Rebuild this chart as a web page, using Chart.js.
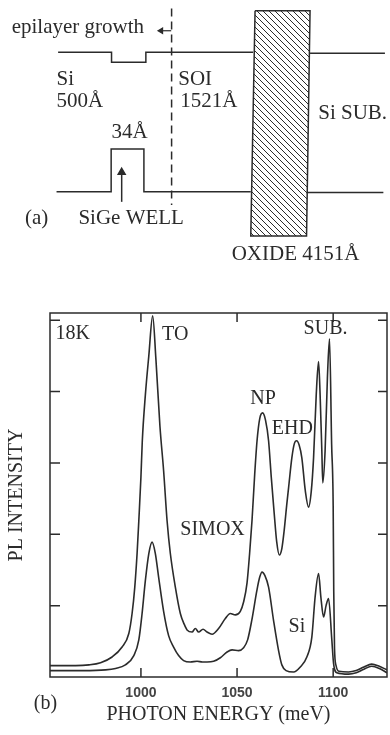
<!DOCTYPE html>
<html>
<head>
<meta charset="utf-8">
<script src="https://cdn.jsdelivr.net/npm/chart.js@4.4.1/dist/chart.umd.min.js"></script>
<style>
  html, body { margin: 0; padding: 0; background: #fff; }
  #wrap { position: relative; width: 390px; height: 735px; overflow: hidden; }
  #diagram { position: absolute; left: 0; top: 0; }
  #plChart { position: absolute; left: 0; top: 290px; }
</style>
</head>
<body>
<div id="wrap">
  <canvas id="diagram" width="390" height="290"></canvas>
  <canvas id="plChart" width="390" height="445"></canvas>
</div>
<script>
// ---- (a) band diagram, schematic units (depth 0-100, energy 0-100) ----
const cbX = [14.9, 28.6, 28.6, 37.4, 37.4, 64.9];
const cbY = [82.0, 82.0, 78.5, 78.5, 82.0, 82.0];
const cbSubX = [79.5, 98.7];
const cbSubY = [81.6, 81.6];
const vbX = [14.5, 28.5, 28.5, 36.9, 36.9, 64.3];
const vbY = [33.9, 33.9, 48.6, 48.6, 33.9, 33.9];
const vbSubX = [78.6, 98.3];
const vbSubY = [33.6, 33.6];
const oxideX = [65.4, 79.5, 78.6, 64.3, 65.4];
const oxideY = [96.3, 96.3, 18.6, 18.6, 96.3];
const interfaceX = [44.0, 44.0];
const interfaceY = [97.1, 29.3];
const wellArrowX = [31.2, 31.2];
const wellArrowY = [30.4, 40.6];
const growthArrowX = [41.3, 43.9];
const growthArrowY = [89.4, 89.4];
const diagramLabels = ['epilayer growth', 'Si', '500Å', 'SOI', '1521Å', 'Si SUB.', '34Å', '(a)', 'SiGe WELL', 'OXIDE 4151Å'];
const diagramLabelX = [3.0, 14.5, 14.5, 45.7, 46.2, 81.6, 28.6, 6.4, 20.1, 59.4];
const diagramLabelY = [88.5, 70.7, 63.2, 70.7, 63.2, 58.9, 52.3, 22.8, 22.8, 10.3];

// ---- (b) PL spectra at 18K ----
const simoxEnergy = [952.7, 966, 973, 979, 985, 990.2, 993.7, 995.4, 996.8, 998.0, 998.9, 1000.0, 1000.7, 1002.3, 1004.1, 1006.1,
  1007.8, 1009.9, 1011.8, 1013.6, 1015.3, 1017.9, 1020.5, 1022.5, 1024.0, 1026.6, 1028.3, 1030.0, 1032.3, 1034.4, 1037.0,
  1040.4, 1043.9, 1046.5, 1049.1, 1051.7, 1053.4, 1055.2, 1056.5, 1057.8, 1059.2, 1060.4, 1061.8, 1063.3, 1064.8, 1066.4,
  1067.8, 1069.3, 1070.6, 1072.0, 1073.3, 1074.5, 1075.8, 1076.8, 1078.5, 1079.8, 1081.0, 1082.3, 1083.7, 1085.5, 1087.2,
  1088.6, 1089.8, 1091.2, 1092.4, 1093.2, 1094.1, 1094.6, 1095.8, 1097.0, 1098.1, 1099.2, 1100.0, 1100.3, 1100.7, 1101.5,
  1103, 1108, 1112, 1116, 1120, 1124, 1128];
const simoxIntensity = [0.16, 0.16, 0.17, 0.20, 0.28, 0.42, 0.61, 0.89, 1.26, 1.73, 2.19, 2.80, 3.30, 3.95, 4.50, 5.06,
  4.45, 3.51, 2.89, 2.19, 1.73, 1.26, 0.89, 0.74, 0.66, 0.63, 0.68, 0.63, 0.67, 0.63, 0.60,
  0.68, 0.82, 0.89, 0.87, 0.92, 1.05, 1.32, 1.72, 2.20, 2.85, 3.31, 3.62, 3.70, 3.60, 3.31,
  2.80, 2.30, 1.90, 1.71, 1.80, 2.05, 2.40, 2.65, 3.07, 3.27, 3.31, 3.25, 3.07, 2.61, 2.38,
  2.60, 3.07, 3.96, 4.42, 3.96, 3.17, 2.72, 3.17, 4.19, 4.74, 3.26, 2.40, 1.20, 0.40, 0.16,
  0.08, 0.07, 0.09, 0.14, 0.18, 0.15, 0.10];
const siEnergy = [952.7, 970, 981.6, 986.8, 991.9, 996.3, 998.9, 1000.6, 1002.3, 1004.1, 1005.8, 1007.5, 1009.2, 1011.8,
  1014.4, 1017.0, 1019.6, 1022.2, 1025.7, 1029.2, 1032.0, 1034.4, 1037.8, 1041.3, 1044.8, 1047.4, 1050.8, 1053.4, 1055.5,
  1057.7, 1060.3, 1061.8, 1063.0, 1064.5, 1066.4, 1069.0, 1071.6, 1073.3, 1075.5, 1079.4, 1082.9, 1086.3, 1088.9, 1090.6,
  1092.4, 1093.6, 1095.0, 1096.3, 1097.6, 1099.3, 1100.2, 1101.9, 1108, 1112, 1116, 1120, 1124, 1128];
const siIntensity = [0.09, 0.09, 0.10, 0.12, 0.17, 0.30, 0.52, 0.89, 1.35, 1.73, 1.89, 1.73, 1.40, 0.92,
  0.58, 0.42, 0.30, 0.23, 0.21, 0.22, 0.21, 0.21, 0.22, 0.27, 0.35, 0.38, 0.37, 0.41, 0.52,
  0.80, 1.21, 1.40, 1.47, 1.42, 1.26, 0.79, 0.37, 0.17, 0.09, 0.07, 0.14, 0.28, 0.56, 1.12,
  1.45, 1.12, 0.84, 1.00, 1.10, 0.52, 0.19, 0.06, 0.04, 0.06, 0.11, 0.15, 0.12, 0.06];
const energyTicks = [1000, 1050, 1100];
const intensityTicks = [1, 2, 3, 4, 5];
const peakLabels = ['18K', 'TO', 'SUB.', 'NP', 'EHD', 'SIMOX', 'Si', '(b)'];
const peakLabelX = [955.6, 1011.0, 1084.6, 1056.9, 1068.1, 1020.5, 1076.8, 944.3];
const peakLabelY = [4.73, 4.72, 4.81, 3.83, 3.40, 1.99, 0.63, -0.45];

const INK = '#2b2b2b';
const SERIF = '"Liberation Serif", "Times New Roman", serif';

const toPoints = (xs, ys) => xs.map((v, i) => ({ x: v, y: ys[i] }));

// draws text labels at data positions
const textLabels = {
  id: 'textLabels',
  afterDatasetsDraw(chart, args, opts) {
    const { ctx, scales: { x, y } } = chart;
    ctx.save();
    ctx.font = opts.font;
    ctx.fillStyle = INK;
    ctx.textAlign = 'left';
    ctx.textBaseline = 'alphabetic';
    opts.texts.forEach((t, i) => {
      ctx.fillText(t, x.getPixelForValue(opts.xs[i]), y.getPixelForValue(opts.ys[i]));
    });
    ctx.restore();
  }
};

// box frame with inward ticks
const frame = {
  id: 'frame',
  beforeDatasetsDraw(chart) {
    const { ctx, chartArea: a, scales: { x, y } } = chart;
    ctx.save();
    ctx.strokeStyle = INK;
    ctx.lineWidth = 1.5;
    ctx.strokeRect(a.left, a.top, a.right - a.left, a.bottom - a.top);
    ctx.beginPath();
    energyTicks.forEach(v => {
      const px = x.getPixelForValue(v);
      ctx.moveTo(px, a.bottom); ctx.lineTo(px, a.bottom - 9);
      ctx.moveTo(px, a.top); ctx.lineTo(px, a.top + 9);
    });
    intensityTicks.forEach(v => {
      const py = y.getPixelForValue(v);
      ctx.moveTo(a.left, py); ctx.lineTo(a.left + 10, py);
      ctx.moveTo(a.right, py); ctx.lineTo(a.right - 9, py);
    });
    ctx.stroke();
    ctx.restore();
  }
};

// ---- chart (a) ----
const diagCanvas = document.getElementById('diagram');
const diagCtx = diagCanvas.getContext('2d');

function hatchPattern() {
  const c = document.createElement('canvas');
  c.width = 6; c.height = 6;
  const g = c.getContext('2d');
  g.strokeStyle = INK;
  g.lineWidth = 1;
  g.beginPath();
  g.moveTo(-1, -1); g.lineTo(7, 7);
  g.moveTo(-1, 5); g.lineTo(1, 7);
  g.moveTo(5, -1); g.lineTo(7, 1);
  g.stroke();
  return diagCtx.createPattern(c, 'repeat');
}

const lineSet = (xs, ys, extra) => Object.assign({
  data: toPoints(xs, ys),
  showLine: true,
  borderColor: INK,
  borderWidth: 1.5,
  pointRadius: 0,
  tension: 0,
  clip: false
}, extra || {});

new Chart(diagCtx, {
  type: 'scatter',
  data: {
    datasets: [
      lineSet(cbX, cbY),
      lineSet(cbSubX, cbSubY),
      lineSet(vbX, vbY),
      lineSet(vbSubX, vbSubY),
      lineSet(oxideX, oxideY, { fill: 'shape', backgroundColor: hatchPattern() }),
      lineSet(interfaceX, interfaceY, { borderDash: [8, 5] }),
      lineSet(wellArrowX, wellArrowY, {
        pointRadius: [0, 4], pointStyle: 'triangle', pointBackgroundColor: INK, pointBorderColor: INK
      }),
      lineSet(growthArrowX, growthArrowY, {
        borderWidth: 1.2, pointRadius: [3, 0], pointStyle: 'triangle', pointRotation: [-90, 0],
        pointBackgroundColor: INK, pointBorderColor: INK
      })
    ]
  },
  options: {
    responsive: false,
    animation: false,
    devicePixelRatio: 1,
    layout: { padding: 0, autoPadding: false },
    scales: {
      x: { type: 'linear', min: 0, max: 100, display: false },
      y: { type: 'linear', min: 0, max: 100, display: false }
    },
    plugins: {
      legend: { display: false },
      tooltip: { enabled: false },
      textLabels: { font: '21px ' + SERIF, texts: diagramLabels, xs: diagramLabelX, ys: diagramLabelY }
    }
  },
  plugins: [textLabels]
});

// ---- chart (b) ----
new Chart(document.getElementById('plChart').getContext('2d'), {
  type: 'scatter',
  data: {
    datasets: [
      {
        label: 'SIMOX',
        data: toPoints(simoxEnergy, simoxIntensity),
        showLine: true,
        borderColor: INK,
        borderWidth: 1.6,
        pointRadius: 0,
        cubicInterpolationMode: 'monotone'
      },
      {
        label: 'Si',
        data: toPoints(siEnergy, siIntensity),
        showLine: true,
        borderColor: INK,
        borderWidth: 1.6,
        pointRadius: 0,
        cubicInterpolationMode: 'monotone'
      }
    ]
  },
  options: {
    responsive: false,
    animation: false,
    devicePixelRatio: 1,
    layout: { padding: { top: 23, right: 3, left: 0, bottom: 0 }, autoPadding: false },
    scales: {
      x: {
        type: 'linear',
        min: 952.7,
        max: 1128,
        afterBuildTicks: s => { s.ticks = energyTicks.map(v => ({ value: v })); },
        afterFit: s => { s.height = 58; },
        grid: { display: false, drawTicks: false },
        border: { display: false },
        ticks: {
          padding: 8,
          color: '#444',
          font: { family: '"Liberation Sans", Arial, sans-serif', size: 14, weight: 'bold' },
          maxRotation: 0,
          callback: v => String(v)
        },
        title: {
          display: true,
          text: 'PHOTON ENERGY (meV)',
          color: INK,
          font: { family: SERIF, size: 20 },
          padding: { top: 0, bottom: 8 }
        }
      },
      y: {
        type: 'linear',
        min: 0,
        max: 5.1,
        afterFit: s => { s.width = 50; },
        grid: { display: false, drawTicks: false },
        border: { display: false },
        ticks: { display: false },
        title: {
          display: true,
          text: 'PL INTENSITY',
          color: INK,
          font: { family: SERIF, size: 20 },
          padding: { top: 5, bottom: 0 }
        }
      }
    },
    plugins: {
      legend: { display: false },
      tooltip: { enabled: false },
      textLabels: { font: '20px ' + SERIF, texts: peakLabels, xs: peakLabelX, ys: peakLabelY }
    }
  },
  plugins: [frame, textLabels]
});
</script>
</body>
</html>
